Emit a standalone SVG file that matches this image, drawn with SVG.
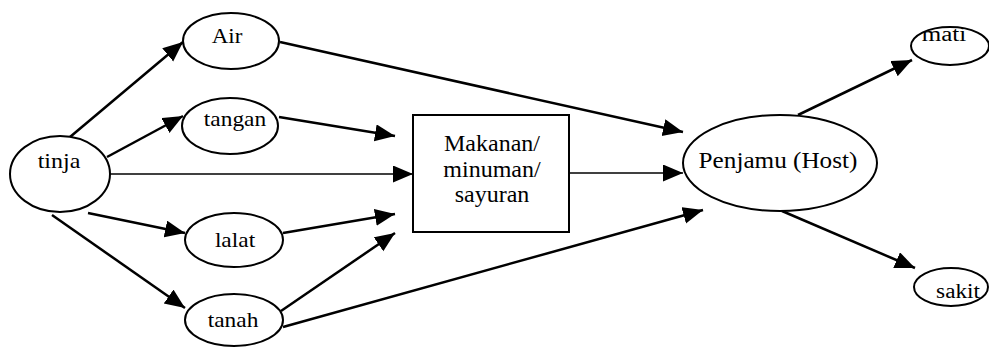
<svg xmlns="http://www.w3.org/2000/svg" width="989" height="347" viewBox="0 0 989 347" font-family="Liberation Serif">
<style>
.n{fill:#fff;stroke:#000;stroke-width:2}
.t{font-size:20px;fill:#000;text-anchor:middle}
.tb{font-size:24px;fill:#000;text-anchor:middle}
.c{stroke:#000;stroke-width:2.5;fill:none;marker-end:url(#ah)}
.c2{stroke:#000;stroke-width:1.6;fill:none;marker-end:url(#ah)}
</style>
<defs>
<marker id="ah" markerUnits="userSpaceOnUse" markerWidth="22" markerHeight="18" refX="20" refY="8.5" orient="auto">
<path d="M0,0 L20,8.5 L0,17 z" fill="#000"/>
</marker>
<clipPath id="matiClip"><ellipse cx="950" cy="46" rx="39" ry="19"/></clipPath>
</defs>
<rect width="989" height="347" fill="#fff"/>
<g id="connectors">
<line class="c" x1="70" y1="137" x2="183" y2="42"/>
<line class="c" x1="107" y1="157" x2="183" y2="116"/>
<line class="c2" x1="109" y1="174" x2="413" y2="174"/>
<line class="c" x1="88" y1="213" x2="185" y2="233"/>
<line class="c" x1="52" y1="215" x2="185" y2="308"/>
<line class="c" x1="280" y1="42" x2="683" y2="132"/>
<line class="c" x1="279" y1="117" x2="395" y2="136"/>
<line class="c" x1="283" y1="233" x2="395" y2="214"/>
<line class="c" x1="281" y1="311" x2="395" y2="233"/>
<line class="c" x1="283" y1="327" x2="703" y2="210"/>
<line class="c2" x1="569" y1="173" x2="683" y2="173"/>
<line class="c" x1="798" y1="115" x2="912" y2="60"/>
<line class="c" x1="782" y1="211" x2="915" y2="268"/>
</g>
<g id="tinja">
<ellipse class="n" cx="60" cy="174" rx="50" ry="38"/>
<text class="t" font-family="Liberation Serif" transform="translate(59,168) scale(1.2,1)">tinja</text>
</g>
<g id="air">
<ellipse class="n" cx="231" cy="41" rx="48" ry="28"/>
<text class="t" font-family="Liberation Serif" transform="translate(227,43) scale(1.15,1)">Air</text>
</g>
<g id="tangan">
<ellipse class="n" cx="230" cy="126" rx="48" ry="28"/>
<text class="t" font-family="Liberation Serif" transform="translate(235,126) scale(1.17,1)">tangan</text>
</g>
<g id="lalat">
<ellipse class="n" cx="234" cy="240" rx="49" ry="27"/>
<text class="t" font-family="Liberation Serif" transform="translate(235,247) scale(1.17,1)">lalat</text>
</g>
<g id="tanah">
<ellipse class="n" cx="234" cy="320" rx="49" ry="26"/>
<text class="t" font-family="Liberation Serif" transform="translate(233,327) scale(1.17,1)">tanah</text>
</g>
<g id="makanan">
<rect class="n" x="413" y="115" width="156" height="117"/>
<text class="tb" font-family="Liberation Serif" x="492" y="151">Makanan/</text>
<text class="tb" font-family="Liberation Serif" x="492" y="177">minuman/</text>
<text class="tb" font-family="Liberation Serif" x="492" y="202">sayuran</text>
</g>
<g id="penjamu">
<ellipse class="n" cx="780" cy="163" rx="97" ry="48"/>
<text class="tb" font-family="Liberation Serif" transform="translate(778,168) scale(1.05,1)">Penjamu (Host)</text>
</g>
<g id="mati">
<ellipse class="n" cx="950" cy="46" rx="39" ry="19"/>
<g clip-path="url(#matiClip)"><text class="t" font-family="Liberation Serif" transform="translate(944,41) scale(1.25,1)">mati</text></g>
</g>
<g id="sakit">
<ellipse class="n" cx="951" cy="287" rx="37" ry="19"/>
<text class="t" font-family="Liberation Serif" transform="translate(958,298) scale(1.16,1)">sakit</text>
</g>
</svg>
